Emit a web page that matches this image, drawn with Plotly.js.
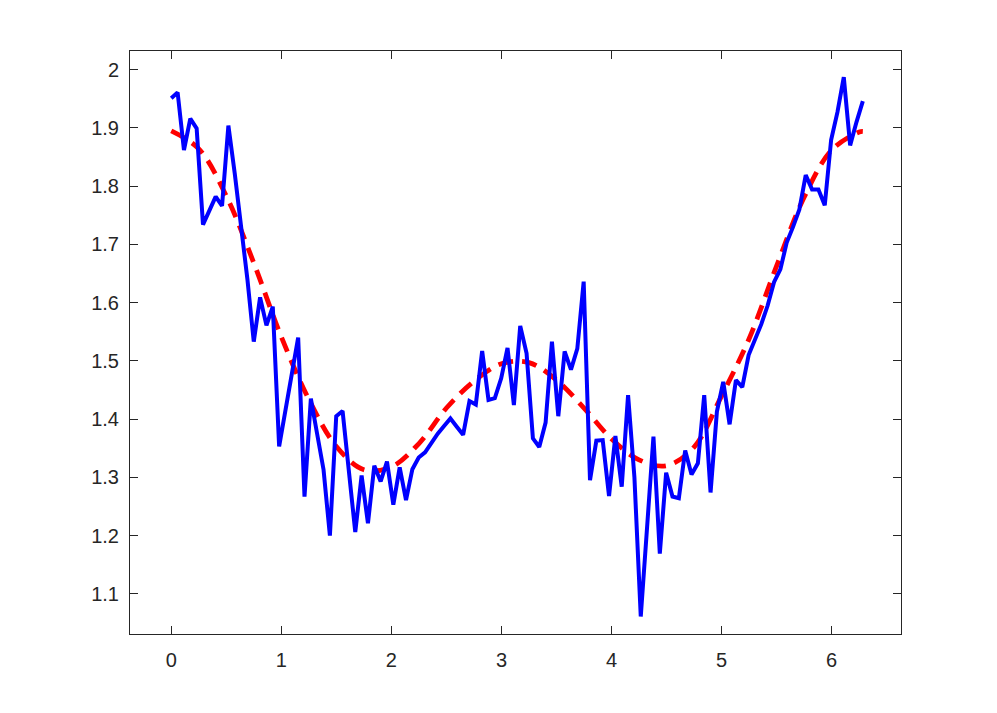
<!DOCTYPE html>
<html>
<head>
<meta charset="utf-8">
<script src="https://cdn.plot.ly/plotly-3.0.1.min.js"></script>
<style>html,body{margin:0;padding:0;background:#fff;}#chart{width:997px;height:713px;}</style>
</head>
<body>
<div id="chart"></div>
<script>
// Measured signal (blue)
const xData = [0,0.0576,0.1153,0.1729,0.2306,0.2882,0.3459,0.4035,0.4612,0.5188,
0.5764,0.6341,0.6917,0.7494,0.8070,0.8647,0.9223,0.9800,1.0376,1.0952,
1.1529,1.2105,1.2682,1.3258,1.3835,1.4411,1.4987,1.5564,1.6140,1.6717,
1.7293,1.7870,1.8446,1.9023,1.9599,2.0175,2.0752,2.1328,2.1905,2.2481,
2.3058,2.3634,2.4210,2.4787,2.5363,2.5940,2.6516,2.7093,2.7669,2.8246,
2.8822,2.9398,2.9975,3.0551,3.1128,3.1704,3.2281,3.2857,3.3433,3.4010,
3.4586,3.5163,3.5739,3.6316,3.6892,3.7469,3.8045,3.8621,3.9198,3.9774,
4.0351,4.0927,4.1504,4.2080,4.2656,4.3233,4.3809,4.4386,4.4962,4.5539,
4.6115,4.6692,4.7268,4.7844,4.8421,4.8997,4.9574,5.0150,5.0727,5.1303,
5.1879,5.2456,5.3032,5.3609,5.4185,5.4762,5.5338,5.5915,5.6491,5.7067,
5.7644,5.8220,5.8797,5.9373,5.9950,6.0526,6.1102,6.1679,6.2255,6.2832];
const yData = [1.951,1.961,1.862,1.916,1.899,1.734,1.758,1.782,1.766,1.904,
1.822,1.736,1.640,1.533,1.609,1.561,1.593,1.353,1.415,1.478,
1.540,1.267,1.435,1.374,1.313,1.200,1.405,1.414,1.310,1.206,
1.303,1.221,1.320,1.293,1.327,1.253,1.317,1.261,1.314,1.334,
1.343,1.360,1.375,1.388,1.401,1.387,1.373,1.431,1.425,1.517,
1.433,1.436,1.470,1.522,1.424,1.560,1.513,1.367,1.352,1.394,
1.533,1.405,1.516,1.485,1.521,1.636,1.295,1.363,1.364,1.268,
1.371,1.284,1.441,1.300,1.061,1.215,1.370,1.169,1.308,1.267,
1.264,1.346,1.305,1.324,1.441,1.274,1.413,1.464,1.391,1.467,
1.455,1.510,1.536,1.563,1.595,1.635,1.657,1.703,1.730,1.760,
1.819,1.794,1.794,1.767,1.879,1.927,1.987,1.870,1.910,1.946];

// Fitted curve (red dashed)
const xFit = [0,0.25,0.5,0.75,1.0,1.25,1.5,1.75,2.0,2.25,2.5,2.75,3.0,3.25,3.5,3.75,4.0,4.25,4.5,4.75,5.0,5.25,5.5,5.75,6.0,6.25,6.2832];
const yFit = [1.895,1.864,1.783,1.668,1.541,1.434,1.353,1.313,1.318,1.358,1.419,1.465,1.495,1.497,1.467,1.419,1.366,1.330,1.320,1.352,1.440,1.538,1.663,1.781,1.862,1.893,1.894];

// Tick labels
const xTickVals = [0,1,2,3,4,5,6];
const xTickText = ['0','1','2','3','4','5','6'];
const yTickVals = [1.1,1.2,1.3,1.4,1.5,1.6,1.7,1.8,1.9,2.0];
const yTickText = ['1.1','1.2','1.3','1.4','1.5','1.6','1.7','1.8','1.9','2'];

const axisColor = '#262626';
const tickFont = {family: 'Liberation Sans, Arial, Helvetica, sans-serif', size: 20, color: axisColor};

const traces = [
  {x: xFit, y: yFit, type: 'scatter', mode: 'lines',
   line: {color: '#FF0000', width: 4.8, dash: '15px,9px', shape: 'spline', smoothing: 1}, hoverinfo: 'skip'},
  {x: xData, y: yData, type: 'scatter', mode: 'lines',
   line: {color: '#0000FF', width: 4}, hoverinfo: 'skip'}
];

const axisCommon = {
  showline: true, linecolor: axisColor, linewidth: 1, mirror: 'ticks',
  ticks: 'inside', ticklen: 8, tickwidth: 1, tickcolor: axisColor,
  showgrid: false, zeroline: false, tickfont: tickFont, fixedrange: true
};

const layout = {
  width: 997, height: 713,
  margin: {l: 130, r: 96, t: 51, b: 79, pad: 0},
  paper_bgcolor: '#ffffff', plot_bgcolor: '#ffffff',
  showlegend: false,
  xaxis: Object.assign({}, axisCommon, {range: [-0.375, 6.63], tickmode: 'array', tickvals: xTickVals, ticktext: xTickText, ticklabelstandoff: 8}),
  yaxis: Object.assign({}, axisCommon, {range: [1.031, 2.032], tickmode: 'array', tickvals: yTickVals, ticktext: yTickText, ticklabelstandoff: 6})
};

Plotly.newPlot('chart', traces, layout, {staticPlot: true, displayModeBar: false});
</script>
</body>
</html>
